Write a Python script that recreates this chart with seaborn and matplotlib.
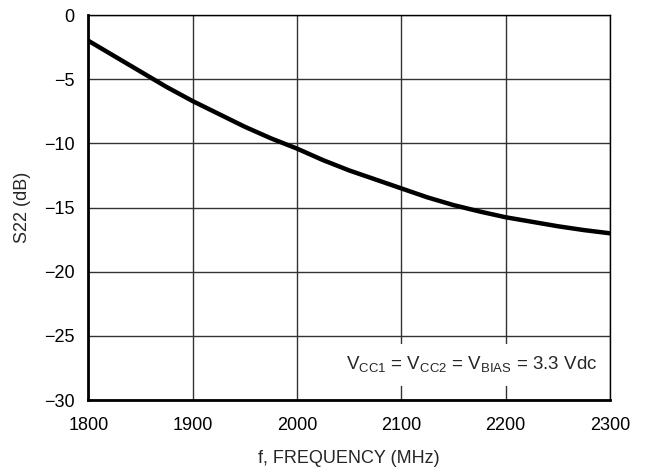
import numpy as np
import pandas as pd
import seaborn as sns
from matplotlib import pyplot as plt

# valores
freq = [1800, 1825, 1850, 1875, 1900, 1925, 1950, 1975, 2000, 2025, 2050,
        2075, 2100, 2125, 2150, 2175, 2200, 2225, 2250, 2275, 2300]
s22 = [-2.0, -3.2, -4.4, -5.6, -6.7, -7.7, -8.7, -9.6, -10.4, -11.3, -12.1,
       -12.8, -13.5, -14.2, -14.8, -15.3, -15.75, -16.1, -16.45, -16.75, -17.0]
x_ticks = [1800, 1900, 2000, 2100, 2200, 2300]
y_ticks = [0, -5, -10, -15, -20, -25, -30]

df = pd.DataFrame({"f": freq, "s22": s22})

sns.set_style("white")
plt.rcParams['font.family'] = ['Liberation Sans Narrow', 'Liberation Sans', 'DejaVu Sans']

fig, ax = plt.subplots(figsize=(6.65, 4.74), dpi=100)
fig.subplots_adjust(left=0.133, right=0.917, top=0.968, bottom=0.156)

sns.lineplot(data=df, x="f", y="s22", color="black", linewidth=3.2, ax=ax)

ax.set_xlim(1800, 2300)
ax.set_ylim(-30, 0)
ax.set_xticks(x_ticks)
ax.set_yticks(y_ticks)
ax.set_yticklabels([str(v).replace("-", "\u2212") for v in y_ticks])
ax.grid(True, color="#333333", linewidth=1.0)
ax.set_axisbelow(True)

for s in ["top", "right"]:
    ax.spines[s].set_linewidth(1.0)
    ax.spines[s].set_color("black")
for s in ["left", "bottom"]:
    ax.spines[s].set_linewidth(2.0)
    ax.spines[s].set_color("black")

ax.tick_params(axis="x", labelsize=13, length=0, pad=12, colors="black")
ax.tick_params(axis="y", labelsize=13, length=0, pad=10, colors="black")
ax.set_xlabel("f, FREQUENCY (MHz)", fontsize=13, labelpad=12)
ax.set_ylabel("S22 (dB)", fontsize=13, labelpad=9)

ax.text(0.977, 0.091, r"V$_{\mathregular{CC1}}$ = V$_{\mathregular{CC2}}$ = V$_{\mathregular{BIAS}}$ = 3.3 Vdc",
        transform=ax.transAxes, ha="right", va="center", fontsize=13.5,
        bbox=dict(facecolor="white", edgecolor="none", pad=8))

plt.savefig("out.png", dpi=100)
